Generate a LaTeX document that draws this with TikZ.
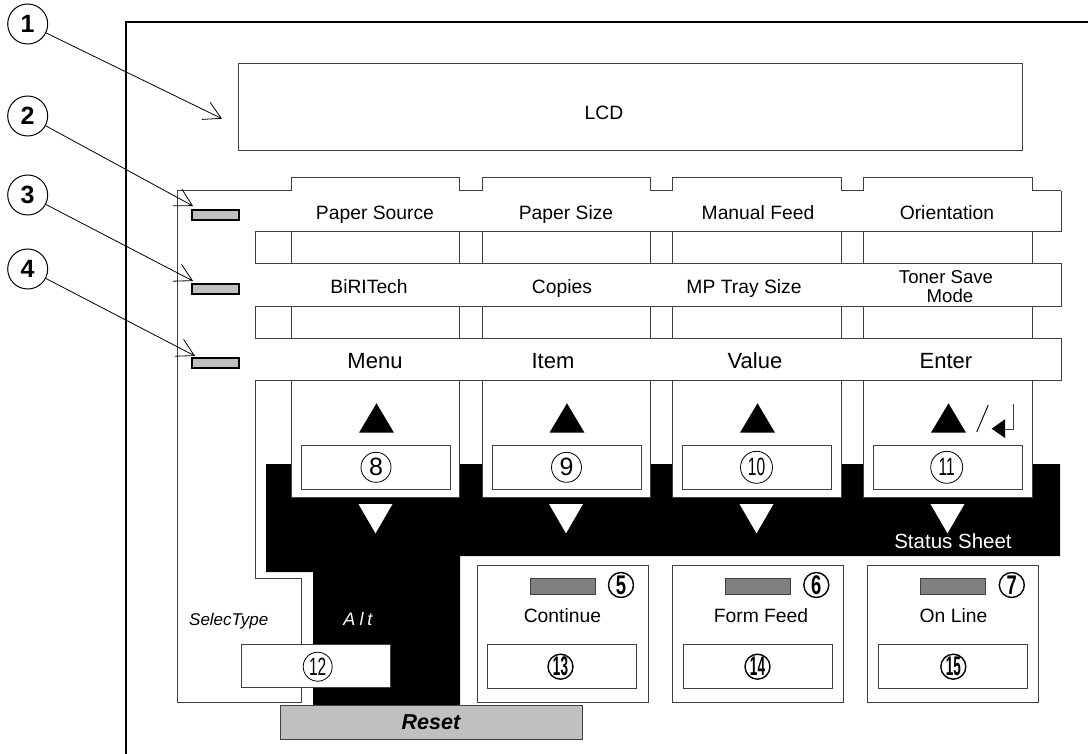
\documentclass[tikz,border=0pt]{standalone}
\usepackage{fontspec}
\usepackage{graphicx}
\setmainfont{Liberation Sans}
\usetikzlibrary{arrows.meta}
\definecolor{ledgray}{HTML}{C0C0C0}
\definecolor{leddark}{HTML}{808080}
\definecolor{linegray}{HTML}{404040}
\tikzset{
 pline/.style={draw=linegray,line width=0.9pt},
 ledL/.style={rectangle,draw=black,line width=1.7pt,fill=ledgray,minimum width=47pt,minimum height=10.5pt,inner sep=0},
 ledR/.style={rectangle,draw=linegray,line width=0.8pt,fill=leddark,minimum width=65pt,minimum height=15.5pt,inner sep=0},
 btn/.style={rectangle,pline,fill=white,inner sep=0,minimum width=149pt,minimum height=44pt},
 callout/.style={circle,draw,line width=1pt,minimum size=40pt,inner sep=0,font=\fontsize{25}{25}\selectfont\bfseries},
 cnum/.style={circle,draw,line width=0.8pt,inner sep=0,minimum size=30pt,font=\fontsize{25}{25}\selectfont},
 cnumb/.style={circle,draw,line width=1.4pt,inner sep=0,minimum size=25pt,font=\fontsize{27}{27}\selectfont\bfseries},
 lbl/.style={anchor=base,inner sep=0,font=\fontsize{19.3}{22}\selectfont},
 biglbl/.style={anchor=base,inner sep=0,font=\fontsize{22}{26}\selectfont},
 leader/.style={line width=0.8pt,-{Straight Barb[length=17pt,width=19pt,line width=0.8pt]}},
}
\begin{document}
\begin{tikzpicture}[x=1pt,y=-1pt]
\useasboundingbox[fill=white] (0,0) rectangle (1088,754);
% outer frame
\draw[line width=1.2pt] (126,754) -- (126,22) -- (1088,22);
% LCD
\node[rectangle,pline,minimum width=784pt,minimum height=86.7pt,inner sep=0] (lcd) at (630,106.7) {};
\node[lbl] (lcdtxt) at (604,119.6) {LCD};
% left panel outline
\draw[pline] (1061,190.7) -- (177,190.7) -- (177,702) -- (301,702) -- (301,578) -- (255,578) -- (255,231.7);
% black region
\fill[black] (266,464) -- (1060,464) -- (1060,556) -- (460,556) -- (460,706) -- (313,706) -- (313,572) -- (266,572) -- cycle;
% columns
\foreach \xa/\xb in {291/459,482/650,672/841,863/1032}{
  \draw[pline,fill=white] (\xa,177) rectangle (\xb,497);
}
% rows
\fill[white] (178,191) rectangle (1060.5,231.3);
\draw[pline] (1061,190.7) -- (1061,231.7) -- (255,231.7);
\fill[white] (254,263.3) rectangle (1061,306.7);
\draw[pline] (255,263.3) -- (1061,263.3) -- (1061,306.7) -- (255,306.7);
\fill[white] (254,338.3) rectangle (1061,380);
\draw[pline] (255,338.3) -- (1061,338.3) -- (1061,380) -- (255,380);
% left LEDs
\node[ledL] (led2) at (215.5,215) {};
\node[ledL] (led3) at (215.5,289) {};
\node[ledL] (led4) at (215.5,363) {};
% row labels
\node[lbl] (ps) at (375,220) {Paper Source};
\node[lbl] (psz) at (566,220) {Paper Size};
\node[lbl] (mf) at (758,220) {Manual Feed};
\node[lbl] (ori) at (947,220) {Orientation};
\node[lbl] (bir) at (369,293.3) {BiRITech};
\node[lbl] (cop) at (562,293.3) {Copies};
\node[lbl] (mpt) at (744,293.3) {MP Tray Size};
\node[lbl,font=\fontsize{18.6}{19}\selectfont] (ts1) at (946,283.3) {Toner Save};
\node[lbl,font=\fontsize{18.6}{19}\selectfont] (ts2) at (950,302.3) {Mode};
\node[biglbl] (menu) at (375,368.5) {Menu};
\node[biglbl] (item) at (553,368.5) {Item};
\node[biglbl] (value) at (755,368.5) {Value};
\node[biglbl] (enter) at (946,368.5) {Enter};
% triangles
\foreach \cx in {376.5,567,757.5,948.5}{
  \fill[black] (\cx,403.3) -- (\cx-17.5,432.7) -- (\cx+17.5,432.7) -- cycle;
  \fill[white] (\cx-18,504) -- (\cx+16,504) -- (\cx-1,533.3) -- cycle;
}
% enter symbol
\draw[line width=0.9pt] (988.3,405) -- (976.7,432);
\draw[line width=0.9pt,draw=linegray] (1013.3,404) -- (1013.3,429) -- (1004,429);
\fill[black] (991.7,428.7) -- (1005,419.3) -- (1005,438) -- cycle;
% buttons 8-11
\node[btn] (b8) at (376,467) {};
\node[btn] (b9) at (566.5,467) {};
\node[btn] (b10) at (756.5,467) {};
\node[btn] (b11) at (947.5,467) {};
\node[cnum] (n8) at (376,467.3) {8};
\node[cnum] (n9) at (566.5,467.3) {9};
\node[cnum,minimum size=32pt] (n10) at (756.5,467.3) {\scalebox{0.62}[1]{10}};
\node[cnum,minimum size=32pt] (n11) at (946.7,467.3) {\scalebox{0.62}[1]{11}};
% status sheet
\node[lbl,text=white,font=\fontsize{20.5}{22}\selectfont] (ss) at (953,548.3) {Status Sheet};
% bottom boxes
\node[rectangle,pline,fill=white,minimum width=171pt,minimum height=137pt,inner sep=0] (bx13) at (562.7,633.5) {};
\node[rectangle,pline,fill=white,minimum width=171pt,minimum height=137pt,inner sep=0] (bx14) at (757.7,633.5) {};
\node[rectangle,pline,fill=white,minimum width=171pt,minimum height=137pt,inner sep=0] (bx15) at (953,633.5) {};
\node[ledR] (led5) at (562.8,586.3) {};
\node[ledR] (led6) at (757.5,586.3) {};
\node[ledR] (led7) at (953,586.3) {};
\node[cnumb] (n5) at (621,585) {\scalebox{0.68}[1]{5}};
\node[cnumb] (n6) at (816.3,585) {\scalebox{0.68}[1]{6}};
\node[cnumb] (n7) at (1011.8,585) {\scalebox{0.68}[1]{7}};
\node[lbl] (cont) at (562.4,622.7) {Continue};
\node[lbl] (ff) at (761,622.7) {Form Feed};
\node[lbl] (onl) at (953.5,622.7) {On Line};
\node[btn] (b13) at (562.4,666.5) {};
\node[btn] (b14) at (757.9,666.5) {};
\node[btn] (b15) at (953.3,666.5) {};
\node[cnumb] (n13) at (560.5,666.7) {\scalebox{0.5}[1]{13}};
\node[cnumb] (n14) at (757.5,666.7) {\scalebox{0.5}[1]{14}};
\node[cnumb] (n15) at (953.3,666.7) {\scalebox{0.5}[1]{15}};
% SelecType / Alt / button 12
\node[lbl,font=\fontsize{17}{20}\selectfont\itshape] (sel) at (228.7,625) {SelecType};
\node[lbl,text=white,font=\fontsize{18}{20}\selectfont\itshape] (alt) at (358,625) {A\hspace{4pt}l\hspace{4pt}t};
\node[btn,minimum width=148.3pt,minimum height=43.7pt] (b12) at (315.8,665.8) {};
\node[cnum,minimum size=29pt] (n12) at (317.7,666.7) {\scalebox{0.62}[1]{12}};
% reset
\node[rectangle,draw=linegray,line width=0.9pt,fill=ledgray,minimum width=302pt,minimum height=33.3pt,inner sep=0] (reset) at (431,722.4) {};
\node[lbl,font=\fontsize{21.5}{24}\selectfont\bfseries\itshape] (rtxt) at (431,729.3) {Reset};
% callouts
\node[callout] (c1) at (27.7,24) {1};
\node[callout] (c2) at (27.7,116) {2};
\node[callout] (c3) at (27.7,195) {3};
\node[callout] (c4) at (27.7,269) {4};
\coordinate (t1) at (222,118.7);
\coordinate (t2) at (193,206);
\coordinate (t3) at (193,281);
\coordinate (t4) at (195,356);
\draw[leader] (c1) -- (t1);
\draw[leader] (c2) -- (t2);
\draw[leader] (c3) -- (t3);
\draw[leader] (c4) -- (t4);
\end{tikzpicture}
\end{document}
